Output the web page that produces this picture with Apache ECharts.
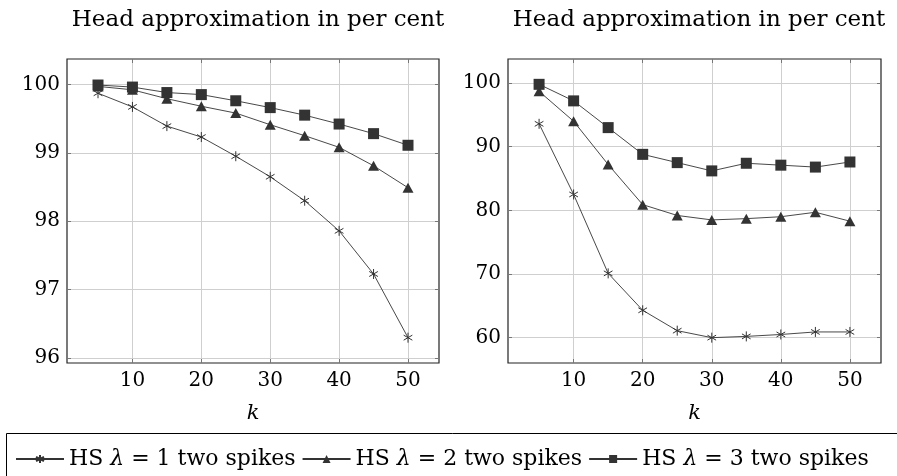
<!DOCTYPE html>
<html>
<head>
<meta charset="utf-8">
<script src="https://cdn.jsdelivr.net/npm/echarts@6/dist/echarts.min.js"></script>
<style>
    html, body { margin: 0; padding: 0; background: #fff; }
    #chart { width: 897px; height: 476px; }
</style>
</head>
<body>
<div id="chart"></div>
<script>
(function () {
    'use strict';

    // k values on the x axis
    var kValues = [5, 10, 15, 20, 25, 30, 35, 40, 45, 50];
    var xTicks = [10, 20, 30, 40, 50];

    // left panel
    var leftTicks = [96, 97, 98, 99, 100];
    var leftLambda1 = [99.87, 99.67, 99.39, 99.23, 98.95, 98.65, 98.30, 97.86, 97.23, 96.30];
    var leftLambda2 = [99.97, 99.92, 99.79, 99.68, 99.58, 99.41, 99.25, 99.08, 98.81, 98.49];
    var leftLambda3 = [99.99, 99.96, 99.88, 99.85, 99.76, 99.66, 99.55, 99.42, 99.28, 99.11];

    // right panel
    var rightTicks = [60, 70, 80, 90, 100];
    var rightLambda1 = [93.6, 82.5, 70.1, 64.3, 61.1, 60.0, 60.2, 60.5, 60.9, 60.9];
    var rightLambda2 = [98.7, 94.0, 87.2, 80.9, 79.2, 78.5, 78.7, 79.0, 79.7, 78.3];
    var rightLambda3 = [99.8, 97.2, 93.0, 88.8, 87.5, 86.2, 87.4, 87.1, 86.8, 87.6];

    var seriesNames = ['HS λ = 1 two spikes', 'HS λ = 2 two spikes', 'HS λ = 3 two spikes'];
    var titleText = 'Head approximation in per cent';

    var FONT = 'DejaVu Serif';
    var INK = '#333333';
    var asterisk = 'path://M5 0 L5 10 M0.67 2.5 L9.33 7.5 M0.67 7.5 L9.33 2.5';

    function pairs(ys) {
        return kValues.map(function (k, i) { return [k, ys[i]]; });
    }

    function xAxisFor(gridIndex, pos) {
        var main = pos === 'bottom';
        return {
            type: 'value', gridIndex: gridIndex, position: pos,
            min: 0.5, max: 54.5,
            name: main ? 'k' : '', nameLocation: 'middle', nameGap: 40,
            nameTextStyle: { fontFamily: FONT, fontStyle: 'italic', fontSize: 21, color: '#000' },
            axisLine: { show: false },
            axisTick: { show: true, inside: true, length: 4, customValues: xTicks, lineStyle: { color: '#777' } },
            axisLabel: { show: main, customValues: xTicks, margin: 8, fontFamily: FONT, fontSize: 20, color: '#000' },
            splitLine: { show: main, lineStyle: { color: '#cfcfcf', width: 1 } }
        };
    }

    function yAxisFor(gridIndex, pos, min, max, ticks) {
        var main = pos === 'left';
        return {
            type: 'value', gridIndex: gridIndex, position: pos,
            min: min, max: max,
            axisLine: { show: false },
            axisTick: { show: true, inside: true, length: 4, customValues: ticks, lineStyle: { color: '#777' } },
            axisLabel: { show: main, customValues: ticks, margin: 7, fontFamily: FONT, fontSize: 20, color: '#000' },
            splitLine: { show: main, lineStyle: { color: '#cfcfcf', width: 1 } }
        };
    }

    function lineSeries(name, data, idx, symbol) {
        var s = {
            name: name, type: 'line', data: pairs(data),
            xAxisIndex: idx * 2, yAxisIndex: idx * 2,
            symbol: symbol.type, symbolSize: symbol.size, symbolKeepAspect: true,
            showAllSymbol: true, silent: true,
            lineStyle: { color: INK, width: 0.9 },
            itemStyle: { color: INK }
        };
        if (symbol.type === asterisk) {
            s.itemStyle = { color: 'transparent', borderColor: INK, borderWidth: 1 };
        }
        return s;
    }

    var symbols = [
        { type: asterisk, size: 10 },
        { type: 'triangle', size: [11, 10] },
        { type: 'rect', size: 11 }
    ];

    var series = [];
    [[leftLambda1, leftLambda2, leftLambda3], [rightLambda1, rightLambda2, rightLambda3]].forEach(function (panel, p) {
        panel.forEach(function (ys, i) {
            series.push(lineSeries(seriesNames[i], ys, p, symbols[i]));
        });
    });

    var chart = echarts.init(document.getElementById('chart'));

    chart.setOption({
        animation: false,
        backgroundColor: '#fff',
        title: [
            { text: titleText, left: 253, top: 4, textAlign: 'center',
              textStyle: { fontFamily: FONT, fontWeight: 'normal', fontSize: 23, color: '#000' } },
            { text: titleText, left: 694, top: 4, textAlign: 'center',
              textStyle: { fontFamily: FONT, fontWeight: 'normal', fontSize: 23, color: '#000' } }
        ],
        grid: [
            { left: 67, top: 59, width: 372, height: 304, show: true, borderColor: '#222', borderWidth: 1.2 },
            { left: 508, top: 59, width: 373, height: 304, show: true, borderColor: '#222', borderWidth: 1.2 }
        ],
        xAxis: [
            xAxisFor(0, 'bottom'), xAxisFor(0, 'top'),
            xAxisFor(1, 'bottom'), xAxisFor(1, 'top')
        ],
        yAxis: [
            yAxisFor(0, 'left', 95.93, 100.37, leftTicks), yAxisFor(0, 'right', 95.93, 100.37, leftTicks),
            yAxisFor(1, 'left', 56.02, 103.78, rightTicks), yAxisFor(1, 'right', 56.02, 103.78, rightTicks)
        ],
        legend: {
            data: seriesNames,
            left: 10, top: 443,
            itemWidth: 48, itemHeight: 10, itemGap: 6,
            selectedMode: false,
            formatter: function (name) { return name.replace('λ', '{l|λ}'); },
            textStyle: {
                fontFamily: FONT, fontSize: 22, color: '#000',
                rich: { l: { fontFamily: FONT, fontStyle: 'italic', fontSize: 22, color: '#000' } }
            }
        },
        graphic: [{
            type: 'rect', silent: true, z: -1,
            shape: { x: 6.5, y: 433.5, width: 900, height: 60 },
            style: { fill: 'none', stroke: '#000', lineWidth: 1 }
        }],
        series: series
    });
})();
</script>
</body>
</html>
